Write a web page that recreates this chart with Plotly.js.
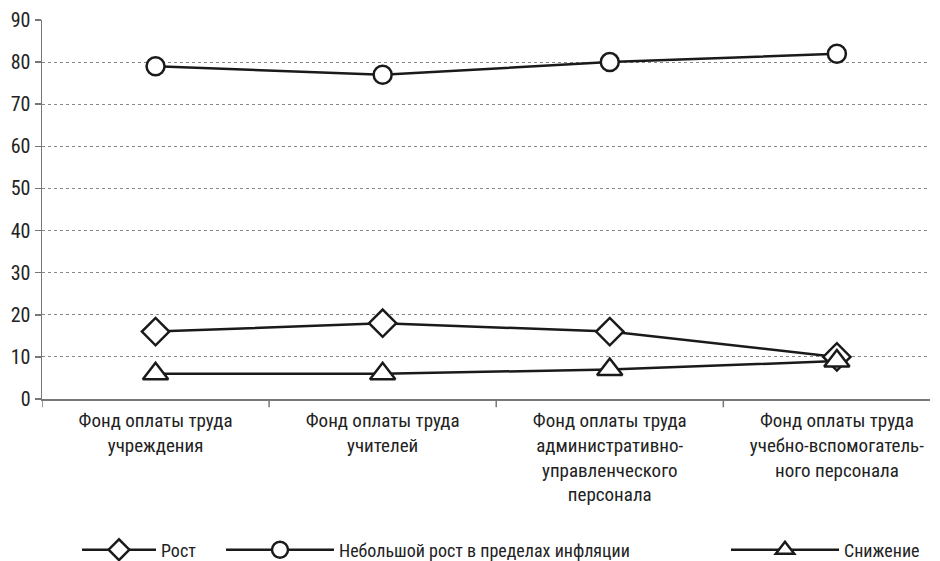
<!DOCTYPE html>
<html>
<head>
<meta charset="utf-8">
<script src="https://cdn.plot.ly/plotly-3.0.1.min.js"></script>
<style>html,body{margin:0;padding:0;background:#fff;}#chart{width:940px;height:561px;}</style>
</head>
<body>
<div id="chart"></div>
<script>
const categories = [
  "Фонд оплаты труда<br>учреждения",
  "Фонд оплаты труда<br>учителей",
  "Фонд оплаты труда<br>административно-<br>управленческого<br>персонала",
  "Фонд оплаты труда<br>учебно-вспомогатель-<br>ного персонала"
];
const seriesNames = ["Рост", "Небольшой рост в пределах инфляции", "Снижение"];
const growth = [16, 18, 16, 10];
const smallGrowth = [79, 77, 80, 82];
const decline = [6, 6, 7, 9];
const yTicks = [0, 10, 20, 30, 40, 50, 60, 70, 80, 90];

const FONT = '"Liberation Sans Narrow", "Roboto Condensed", "Noto Sans", sans-serif';

const sizes = {'diamond': 21, 'circle': 18, 'triangle-up': 22};
function mk(name, y, symbol, legendId) {
  return {
    type: 'scatter', mode: 'lines+markers', name: name,
    x: [0, 1, 2, 3], y: y,
    legend: legendId,
    line: {color: '#1a1a1a', width: 2.5},
    marker: {symbol: symbol, size: sizes[symbol], color: '#ffffff', line: {color: '#1a1a1a', width: 2.5}},
    cliponaxis: false
  };
}

const data = [
  mk(seriesNames[0], growth, 'diamond', 'legend'),
  mk(seriesNames[1], smallGrowth, 'circle', 'legend2'),
  mk(seriesNames[2], decline, 'triangle-up', 'legend3')
];

const legBase = {orientation: 'h', yref: 'container', xref: 'container', yanchor: 'middle', y: 1 - 550 / 561, xanchor: 'left',
  font: {family: FONT, size: 18, color: '#222'}, bgcolor: 'rgba(0,0,0,0)'};
function lx(px) { return px / 940; }

const layout = {
  width: 940, height: 561,
  margin: {l: 42, r: 10, t: 20, b: 162, autoexpand: false},
  paper_bgcolor: '#fff', plot_bgcolor: '#fff',
  font: {family: FONT, size: 19, color: '#222'},
  showlegend: true,
  legend: Object.assign({}, legBase, {x: lx(77), itemwidth: 74}),
  legend2: Object.assign({}, legBase, {x: lx(221), itemwidth: 108}),
  legend3: Object.assign({}, legBase, {x: lx(726), itemwidth: 108}),
  xaxis: {
    type: 'linear', range: [-0.5, 3.41],
    tickmode: 'array', tickvals: [0, 1, 2, 3], ticktext: categories,
    ticks: '', showgrid: false, zeroline: false, automargin: false,
    showline: true, linecolor: '#777', linewidth: 1.5,
    tickfont: {family: FONT, size: 19, color: '#222'},
    ticklabelstandoff: 4
  },
  yaxis: {
    range: [0, 90], tickmode: 'array', tickvals: yTicks, automargin: false,
    ticks: 'outside', ticklen: 6, tickcolor: '#777', tickwidth: 1.5,
    showline: true, linecolor: '#777', linewidth: 1.5,
    showgrid: true, gridcolor: '#888', gridwidth: 1, griddash: 'dot',
    zeroline: false,
    tickfont: {family: FONT, size: 20, color: '#222'}
  },
  shapes: [-0.5, 0.5, 1.5, 2.5].map(v => ({
    type: 'line', xref: 'x', yref: 'paper', x0: v, x1: v, y0: 0, y1: -0.022,
    line: {color: '#777', width: 1.5}
  }))
};

Plotly.newPlot('chart', data, layout, {displayModeBar: false, staticPlot: true});
</script>
</body>
</html>
